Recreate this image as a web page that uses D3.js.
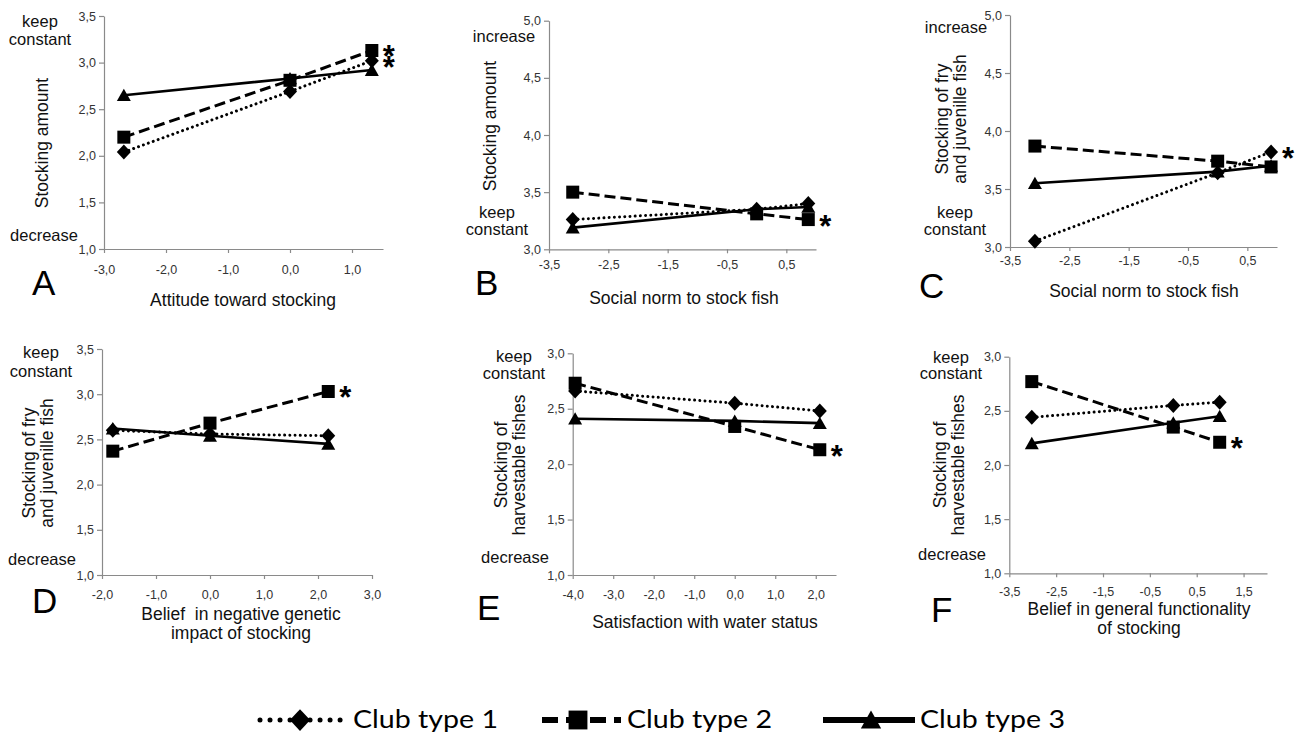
<!DOCTYPE html>
<html><head><meta charset="utf-8">
<script src="https://cdn.jsdelivr.net/npm/d3@7"></script>
<style>
body{margin:0;background:#fff}
svg{display:block}
text{font-family:"Liberation Sans",Arial,sans-serif}
</style>
</head><body><svg id="c" width="1296" height="735"></svg>
<script>
// ---------- DATA ----------
const seriesNames = ["Club type 1", "Club type 2", "Club type 3"];

// Panel A: Attitude toward stocking
const xA = [-2.68, 0, 1.32];
const club1A = [2.04, 2.69, 3.02];
const club2A = [2.20, 2.81, 3.13];
const club3A = [2.65, 2.83, 2.92];
const yTicksA = [1, 1.5, 2, 2.5, 3, 3.5];
const xTicksA = [-3, -2, -1, 0, 1];
const starsA = [1, 0];

// Panel B: Social norm to stock fish (stocking amount)
const xB = [-3.1, 0, 0.87];
const club1B = [3.26, 3.35, 3.40];
const club2B = [3.50, 3.31, 3.26];
const club3B = [3.19, 3.35, 3.37];
const yTicksB = [3, 3.5, 4, 4.5, 5];
const xTicksB = [-3.5, -2.5, -1.5, -0.5, 0.5];
const starsB = [1];

// Panel C: Social norm to stock fish (fry and juvenile)
const xC = [-3.08, 0, 0.9];
const club1C = [3.05, 3.64, 3.82];
const club2C = [3.87, 3.74, 3.69];
const club3C = [3.55, 3.65, 3.70];
const yTicksC = [3, 3.5, 4, 4.5, 5];
const xTicksC = [-3.5, -2.5, -1.5, -0.5, 0.5];
const starsC = [0];

// Panel D: Belief in negative genetic impact
const xD = [-1.8, 0, 2.19];
const club1D = [2.60, 2.56, 2.54];
const club2D = [2.37, 2.68, 3.03];
const club3D = [2.62, 2.54, 2.45];
const yTicksD = [1, 1.5, 2, 2.5, 3, 3.5];
const xTicksD = [-2, -1, 0, 1, 2, 3];
const starsD = [1];

// Panel E: Satisfaction with water status
const xE = [-3.94, 0, 2.1];
const club1E = [2.66, 2.55, 2.48];
const club2E = [2.73, 2.34, 2.13];
const club3E = [2.41, 2.39, 2.37];
const yTicksE = [1, 1.5, 2, 2.5, 3];
const xTicksE = [-4, -3, -2, -1, 0, 1, 2];
const starsE = [1];

// Panel F: Belief in general functionality
const xF = [-3.02, 0, 0.99];
const club1F = [2.44, 2.55, 2.58];
const club2F = [2.77, 2.35, 2.21];
const club3F = [2.20, 2.39, 2.45];
const yTicksF = [1, 1.5, 2, 2.5, 3];
const xTicksF = [-3.5, -2.5, -1.5, -0.5, 0.5, 1.5];
const starsF = [1];

// ---------- LAYOUT ----------
const panels = [
  {letter:"A", x:xA, s:[club1A,club2A,club3A], yT:yTicksA, xT:xTicksA, stars:starsA,
   xDom:[-3,1.5], yDom:[1,3.5], box:[104,383,16,249], pad:12,
   labels:[["keep",40,27],["constant",40,45],["decrease",44,241]],
   ytitle:{x:48,y:143,lines:["Stocking amount"]},
   xtitle:{x:243,y:306,lines:["Attitude toward stocking"]}, L:[32,295]},
  {letter:"B", x:xB, s:[club1B,club2B,club3B], yT:yTicksB, xT:xTicksB, stars:starsB,
   xDom:[-3.5,1], yDom:[3,5], box:[549,816,20.7,249.3], pad:7,
   labels:[["increase",504,42],["keep",497,218],["constant",497,235]],
   ytitle:{x:496,y:126,lines:["Stocking amount"]},
   xtitle:{x:684,y:304,lines:["Social norm to stock fish"]}, L:[475,295]},
  {letter:"C", x:xC, s:[club1C,club2C,club3C], yT:yTicksC, xT:xTicksC, stars:starsC,
   xDom:[-3.5,1], yDom:[3,5], box:[1010,1277,15,247], pad:5,
   labels:[["increase",956,33],["keep",955,218],["constant",955,235]],
   ytitle:{x:948,y:119,lines:["Stocking of fry","and juvenille fish"]},
   xtitle:{x:1144,y:297,lines:["Social norm to stock fish"]}, L:[919,298]},
  {letter:"D", x:xD, s:[club1D,club2D,club3D], yT:yTicksD, xT:xTicksD, stars:starsD,
   xDom:[-2,3], yDom:[1,3.5], box:[102,372,349,575], pad:11,
   labels:[["keep",41,358],["constant",41,377],["decrease",42,565]],
   ytitle:{x:35,y:463,lines:["Stocking of fry","and juvenille fish"]},
   xtitle:{x:241,y:620,lines:["Belief  in negative genetic","impact of stocking"]}, L:[32,613]},
  {letter:"E", x:xE, s:[club1E,club2E,club3E], yT:yTicksE, xT:xTicksE, stars:starsE,
   xDom:[-4,2.5], yDom:[1,3], box:[572.7,836,353.3,575], pad:11,
   labels:[["keep",514,362],["constant",514,379],["decrease",515,563]],
   ytitle:{x:507,y:465,lines:["Stocking of","harvestable fishes"]},
   xtitle:{x:705,y:628,lines:["Satisfaction with water status"]}, L:[477,620]},
  {letter:"F", x:xF, s:[club1F,club2F,club3F], yT:yTicksF, xT:xTicksF, stars:starsF,
   xDom:[-3.5,2], yDom:[1,3], box:[1009.3,1267,356.7,573.3], pad:10,
   labels:[["keep",951,363],["constant",951,379],["decrease",952,560]],
   ytitle:{x:946,y:465,lines:["Stocking of","harvestable fishes"]},
   xtitle:{x:1139,y:615,lines:["Belief in general functionality","of stocking"]}, L:[931,622]}
];

const fmt = d3.formatLocale({decimal:",", thousands:".", grouping:[3], currency:["",""], minus:"-"}).format(".1f");
const styles = [
  {dash:"0.01 5.2", w:3, cap:"round"},
  {dash:"11 5", w:3, cap:"butt"},
  {dash:null, w:2.6, cap:"butt"}
];
function marker(i, cx, cy, k) {
  k = k || 1;
  if (i === 0) { const a = 7*k, b = 7.5*k; return `M${cx},${cy-b}L${cx+a},${cy}L${cx},${cy+b}L${cx-a},${cy}Z`; }
  if (i === 1) { const h = 6.5*k; return `M${cx-h},${cy-h}H${cx+h}V${cy+h}H${cx-h}Z`; }
  const a = 7*k, t = 6.5*k; return `M${cx},${cy-t}L${cx+a},${cy+t*0.9}L${cx-a},${cy+t*0.9}Z`;
}

const svg = d3.select("#c");

panels.forEach(p => {
  const [x0,x1,yt,yb] = p.box;
  const xs = d3.scaleLinear().domain(p.xDom).range([x0,x1]);
  const ys = d3.scaleLinear().domain(p.yDom).range([yb,yt]);
  const g = svg.append("g");

  const ya = g.append("g").attr("transform",`translate(${x0},0)`)
    .call(d3.axisLeft(ys).tickValues(p.yT).tickFormat(fmt).tickSize(5).tickSizeOuter(0).tickPadding(3));
  const xa = g.append("g").attr("transform",`translate(0,${yb})`)
    .call(d3.axisBottom(xs).tickValues(p.xT).tickFormat(fmt).tickSize(4).tickSizeOuter(0).tickPadding(p.pad));
  [ya,xa].forEach(a => {
    a.select(".domain").attr("stroke","#8a8a8a").attr("stroke-width",1.2);
    a.selectAll(".tick line").attr("stroke","#8a8a8a").attr("stroke-width",1.2);
    a.selectAll(".tick text").attr("fill","#333").style("font-size","12.5px")
      .style("font-family",'"Liberation Sans",Arial,sans-serif');
  });

  // lines
  p.s.forEach((vals,i) => {
    const pts = vals.map((v,j) => [xs(p.x[j]), ys(v)]);
    const st = styles[i];
    g.append("path").attr("d", d3.line()(pts)).attr("fill","none").attr("stroke","#000")
      .attr("stroke-width",st.w).attr("stroke-linecap",st.cap)
      .attr("stroke-dasharray",st.dash);
  });
  p.s.forEach((vals,i) => {
    vals.forEach((v,j) => {
      g.append("path").attr("d", marker(i, xs(p.x[j]), ys(v))).attr("fill","#000");
    });
  });
  // significance stars (one text element per panel)
  const n = p.x.length-1;
  const starText = g.append("text").attr("text-anchor","middle")
    .style("font-size","31px").style("font-weight","bold");
  p.stars.forEach(i => {
    starText.append("tspan").attr("x", xs(p.x[n])+17).attr("y", ys(p.s[i][n])+17).text("*");
  });

  // side labels
  p.labels.forEach(([t,x,y]) => g.append("text").attr("x",x).attr("y",y)
    .attr("text-anchor","middle").style("font-size","16.5px").attr("fill","#111").text(t));

  // y title
  const yt2 = g.append("g").attr("transform",`translate(${p.ytitle.x},${p.ytitle.y}) rotate(-90)`);
  p.ytitle.lines.forEach((t,k) => yt2.append("text").attr("x",0).attr("y", k*17.5)
    .attr("text-anchor","middle").style("font-size","17.5px").attr("fill","#111").text(t));
  // x title
  p.xtitle.lines.forEach((t,k) => g.append("text").attr("x",p.xtitle.x).attr("y",p.xtitle.y+k*19)
    .attr("text-anchor","middle").style("font-size","17.5px").style("white-space","pre").attr("fill","#111").text(t));
  // panel letter
  g.append("text").attr("x",p.L[0]).attr("y",p.L[1]).style("font-size","35px").attr("fill","#000").text(p.letter);
});

// ---------- LEGEND ----------
const legendItems = [
  {x1:260, x2:347, mx:300, tx:353, st:{dash:"0.01 10", w:5, cap:"round"}},
  {x1:542, x2:621, mx:578, tx:627, st:{dash:"16 8", w:6, cap:"butt"}},
  {x1:823, x2:915, mx:871, tx:920, st:{dash:null, w:6, cap:"butt"}}
];
const ly = 720;
legendItems.forEach((it,i) => {
  const lg = svg.append("g");
  lg.append("line").attr("x1",it.x1).attr("x2",it.x2).attr("y1",ly).attr("y2",ly)
    .attr("stroke","#000").attr("stroke-width",it.st.w).attr("stroke-linecap",it.st.cap)
    .attr("stroke-dasharray",it.st.dash);
  lg.append("path").attr("d", marker(i, it.mx, ly, 1.45)).attr("fill","#000");
  lg.append("text").attr("x",it.tx).attr("y",728).style("font-family","Lato, sans-serif")
    .style("font-size","25px").attr("textLength",145).attr("lengthAdjust","spacingAndGlyphs")
    .attr("fill","#000").text(seriesNames[i]);
});
</script>
</body></html>
